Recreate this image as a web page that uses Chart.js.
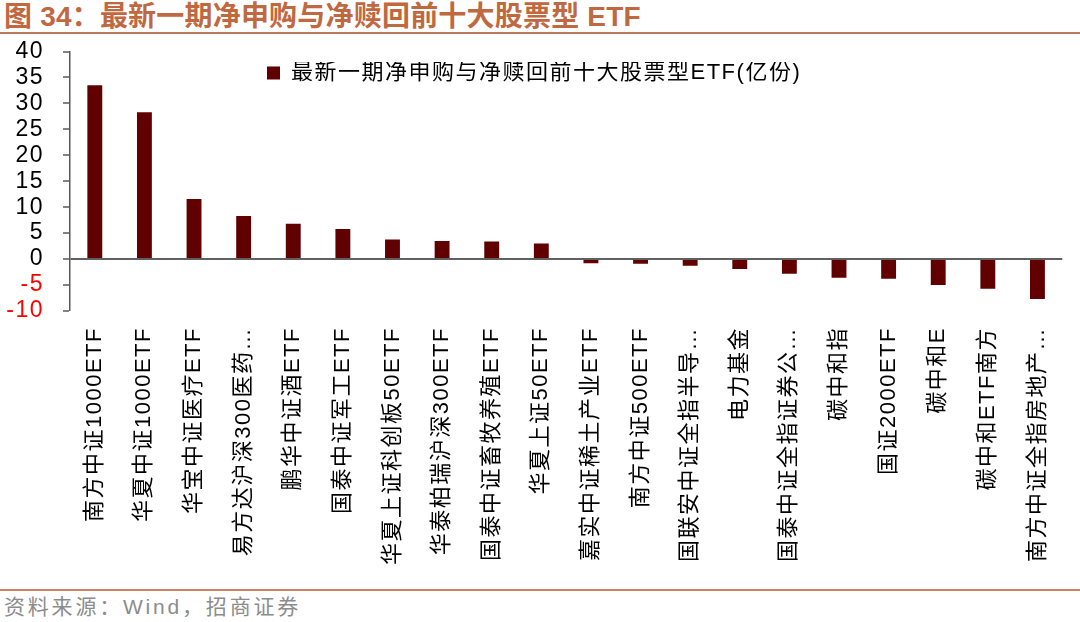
<!DOCTYPE html>
<html>
<head>
<meta charset="utf-8">
<script src="https://cdn.jsdelivr.net/npm/chart.js@4/dist/chart.umd.min.js"></script>
<style>
  html, body { margin: 0; padding: 0; background: #fff; }
  body { width: 1080px; height: 622px; position: relative; overflow: hidden; }
  #title {
    position: absolute; left: 0; top: 0; width: 1080px; height: 34px;
    border-bottom: 2px solid #B97B5C;
    font: bold 28px "Liberation Sans", "Noto Sans CJK SC", sans-serif;
    color: #C0683F; line-height: 34px; padding-left: 4px; box-sizing: border-box;
    white-space: nowrap; letter-spacing: 0.2px;
  }
  #wrap { position: absolute; left: 0; top: 21px; width: 1080px; height: 565px; }
  #footer {
    position: absolute; left: 0; top: 589px; width: 1080px; height: 33px;
    border-top: 2.5px solid #D3825F; box-sizing: border-box;
    font: 21px "Liberation Sans", "Noto Sans CJK SC", sans-serif;
    color: #8C8C8C; line-height: 32px; padding-left: 4px; letter-spacing: 2.8px;
  }
</style>
</head>
<body>
<div id="title">图 34：最新一期净申购与净赎回前十大股票型 ETF</div>
<div id="wrap"><canvas id="c"></canvas></div>
<div id="footer">资料来源：Wind，招商证券</div>
<script>
const categories = [
  "南方中证1000ETF", "华夏中证1000ETF", "华宝中证医疗ETF", "易方达沪深300医药…",
  "鹏华中证酒ETF", "国泰中证军工ETF", "华夏上证科创板50ETF", "华泰柏瑞沪深300ETF",
  "国泰中证畜牧养殖ETF", "华夏上证50ETF", "嘉实中证稀土产业ETF", "南方中证500ETF",
  "国联安中证全指半导…", "电力基金", "国泰中证全指证券公…", "碳中和指",
  "国证2000ETF", "碳中和E", "碳中和ETF南方", "南方中证全指房地产…"
];
const seriesName = "最新一期净申购与净赎回前十大股票型ETF(亿份)";
const netFlow = [
  33.5, 28.3, 11.6, 8.3, 6.8, 5.8, 3.8, 3.5, 3.4, 3.0,
  -0.8, -0.9, -1.3, -1.9, -2.8, -3.6, -3.8, -5.0, -5.7, -7.7
];
const yMin = -10, yMax = 40, yStep = 5;

const FONT = '"Liberation Sans", "Noto Sans CJK SC", sans-serif';

const spacing = {
  id: 'spacing',
  beforeUpdate(chart) { chart.ctx.letterSpacing = '1.5px'; },
  beforeLayout(chart) { chart.ctx.letterSpacing = '1.5px'; },
  beforeDraw(chart) { chart.ctx.letterSpacing = '1.5px'; }
};

const legendPlacer = {
  id: 'legendPlacer',
  afterLayout(chart) {
    const lg = chart.legend;
    if (!lg) return;
    lg.left = 267; lg.top = 41;
    lg.right = lg.left + lg.width; lg.bottom = lg.top + lg.height;
  }
};

new Chart(document.getElementById('c'), {
  type: 'bar',
  data: {
    labels: categories,
    datasets: [{
      label: seriesName,
      data: netFlow,
      backgroundColor: '#600000',
      borderWidth: 0,
      barPercentage: 0.3,
      categoryPercentage: 1.0
    }]
  },
  options: {
    responsive: true,
    maintainAspectRatio: false,
    animation: false,
    layout: { padding: { top: 0, right: 6, left: 0, bottom: 0 } },
    plugins: {
      legend: {
        position: 'chartArea',
        fullSize: false,
        align: 'start',
        labels: {
          boxWidth: 13, boxHeight: 13, padding: 0,
          color: '#000', font: { size: 22, family: FONT }
        }
      },
      tooltip: { enabled: false }
    },
    scales: {
      x: {
        grid: { display: false, drawTicks: false },
        border: { display: false },
        afterFit(scale) { scale.height = 275; },
        ticks: {
          autoSkip: false, maxRotation: 90, minRotation: 90, padding: 16,
          color: '#000', font: { size: 22, family: FONT }
        }
      },
      y: {
        min: yMin, max: yMax,
        afterFit(scale) { scale.width = 70; },
        border: { display: true, color: '#595959', width: 1.5 },
        grid: {
          drawOnChartArea: true,
          color: (ctx) => (ctx.tick && ctx.tick.value === 0 ? '#606060' : 'rgba(0,0,0,0)'),
          lineWidth: (ctx) => (ctx.tick && ctx.tick.value === 0 ? 2 : 0),
          tickColor: '#595959',
          tickWidth: 1.5,
          tickLength: 7
        },
        ticks: {
          stepSize: yStep, padding: 19, autoSkip: false,
          color: (ctx) => (ctx.tick && ctx.tick.value < 0 ? '#FF0000' : '#000'),
          font: { size: 23, family: FONT, lineHeight: 1 }
        }
      }
    }
  },
  plugins: [spacing, legendPlacer]
});
</script>
</body>
</html>
